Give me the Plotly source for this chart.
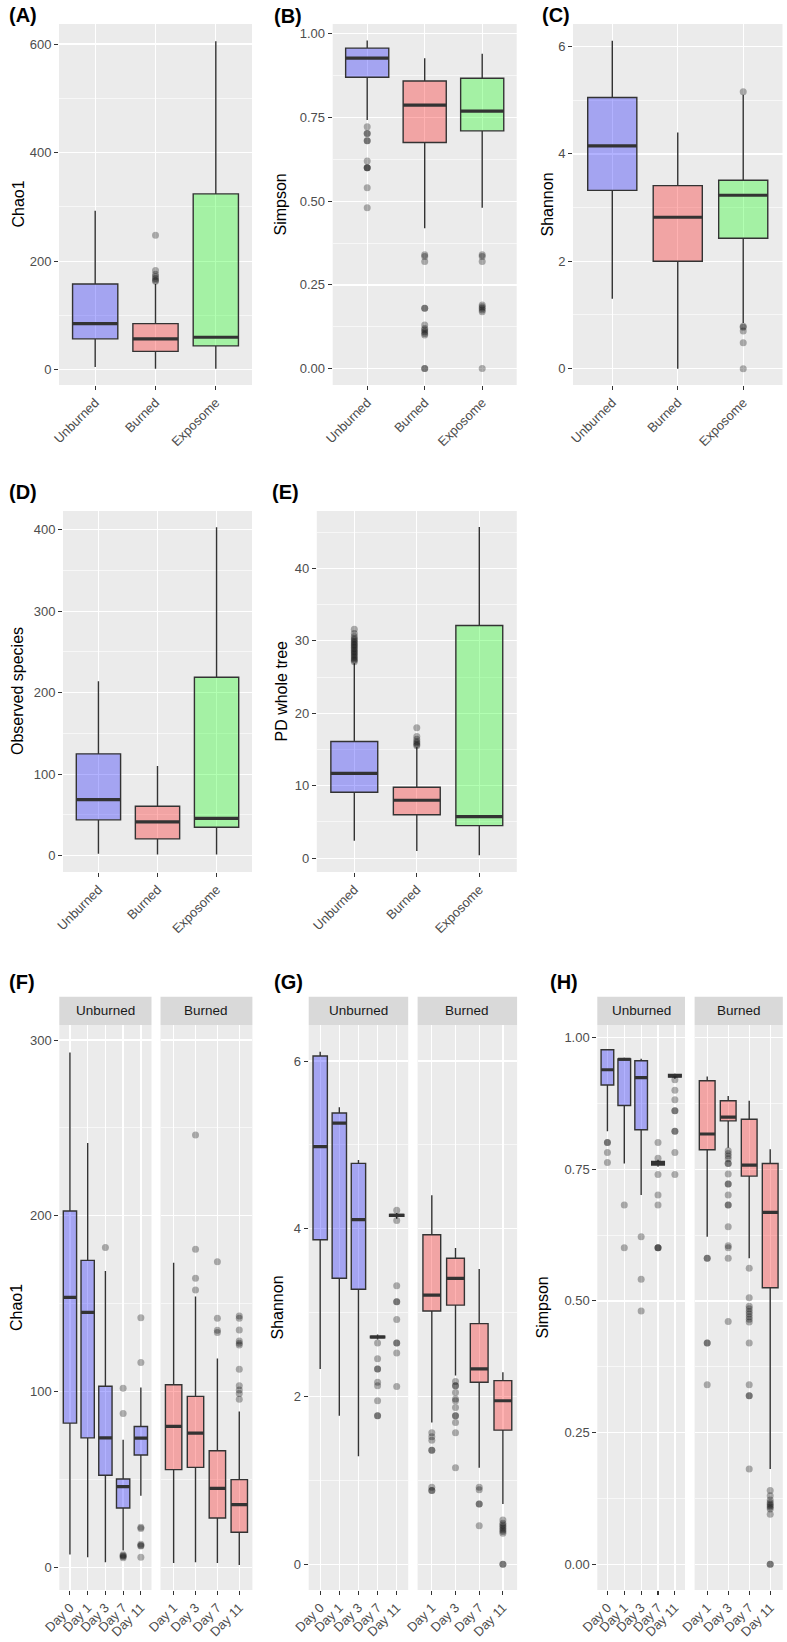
import plotly.graph_objects as go

W, H = 787, 1642
FONT = "Liberation Sans, Arial, sans-serif"
LINE = "#333333"
FILL = {"Unburned": "rgba(0,0,255,0.3)", "Burned": "rgba(255,0,0,0.3)", "Exposome": "rgba(0,255,0,0.3)"}

# ---------------- data ----------------
groups = ["Unburned", "Burned", "Exposome"]
days_unburned = ["Day 0", "Day 1", "Day 3", "Day 7", "Day 11"]
days_burned = ["Day 1", "Day 3", "Day 7", "Day 11"]

# (A) Chao1
A_low = [5, 2, 2]
A_q1 = [57, 34, 44]
A_med = [85, 57, 60]
A_q3 = [158, 85, 324]
A_high = [293, 158, 605]
A_out = [[], [248, 183, 176, 172, 168, 165, 163], []]

# (B) Simpson
B_low = [0.742, 0.419, 0.48]
B_q1 = [0.87, 0.675, 0.71]
B_med = [0.927, 0.787, 0.769]
B_q3 = [0.957, 0.859, 0.867]
B_high = [0.98, 0.927, 0.94]
B_out = [[0.722, 0.702, 0.702, 0.68, 0.68, 0.62, 0.60, 0.60, 0.60, 0.54, 0.48],
         [0.34, 0.335, 0.32, 0.18, 0.18, 0.13, 0.12, 0.115, 0.11, 0.105, 0.10, 0.0, 0.0],
         [0.34, 0.335, 0.32, 0.19, 0.185, 0.18, 0.175, 0.17, 0.0]]

# (C) Shannon
C_low = [1.30, 0.0, 0.85]
C_q1 = [3.32, 2.0, 2.43]
C_med = [4.15, 2.82, 3.23]
C_q3 = [5.05, 3.41, 3.51]
C_high = [6.11, 4.40, 5.10]
C_out = [[], [], [5.16, 0.79, 0.77, 0.70, 0.48, 0.0]]

# (D) Observed species
D_low = [2.5, 1.5, 1.5]
D_q1 = [44, 20.6, 35]
D_med = [68.7, 41.6, 45.7]
D_q3 = [125, 60.7, 219]
D_high = [214, 110, 403]
D_out = [[], [], []]

# (E) PD whole tree
E_low = [2.4, 1.0, 0.4]
E_q1 = [9.1, 6.0, 4.5]
E_med = [11.7, 8.0, 5.75]
E_q3 = [16.1, 9.8, 32.1]
E_high = [26.9, 15.3, 45.7]
E_out = [[27.1, 27.3, 27.5, 27.7, 27.9, 28.1, 28.3, 28.5, 28.7, 28.9, 29.1, 29.3, 29.5,
          29.7, 29.9, 30.1, 30.3, 30.6, 31.0, 31.6],
         [18.0, 16.8, 16.4, 16.1, 15.9, 15.7, 15.5],
         []]

# (F) Chao1 by day
F_U_low = [7.2, 5.7, 2.8, 9.5, 40.7]
F_U_q1 = [82, 73.6, 52.3, 33.7, 63.8]
F_U_med = [153.6, 145, 73.6, 45.8, 73.5]
F_U_q3 = [202.7, 174.6, 103, 50.2, 80.1]
F_U_high = [293, 241.5, 168.6, 72.5, 102.3]
F_U_out = [[], [], [182], [101.9, 87.5, 7, 6.5, 6, 5.3], [142, 116.5, 22.7, 22, 13, 12.3, 12, 5.7]]
F_B_low = [2.3, 2.8, 2.3, 1.3]
F_B_q1 = [55.5, 56.8, 28, 19.9]
F_B_med = [80.1, 76.3, 44.9, 35.6]
F_B_q3 = [103.8, 97.2, 66.3, 49.8]
F_B_high = [173.3, 154, 118.8, 88.6]
F_B_out = [[], [246, 181, 164.4, 157.8],
           [173.9, 141.7, 134.8, 133.5],
           [143, 141.7, 135, 128.8, 127.5, 126.5, 112.7, 103.2, 100.8, 98.9, 95.6]]

# (G) Shannon by day
G_U_low = [2.33, 1.77, 1.29, 2.68, 4.12]
G_U_q1 = [3.87, 3.41, 3.28, 2.70, 4.15]
G_U_med = [4.98, 5.26, 4.11, 2.71, 4.16]
G_U_q3 = [6.06, 5.38, 4.78, 2.72, 4.17]
G_U_high = [6.11, 5.45, 4.82, 2.74, 4.19]
G_U_out = [[], [], [], [2.64, 2.45, 2.33, 2.33, 2.17, 2.13, 1.95, 1.77, 1.77],
           [4.22, 4.10, 3.32, 3.13, 3.13, 2.92, 2.64, 2.64, 2.52, 2.12]]
G_B_low = [1.69, 2.25, 1.15, 0.72]
G_B_q1 = [3.02, 3.09, 2.17, 1.60]
G_B_med = [3.21, 3.41, 2.33, 1.95]
G_B_q3 = [3.93, 3.65, 2.87, 2.19]
G_B_high = [4.40, 3.77, 3.52, 2.29]
G_B_out = [[1.57, 1.52, 1.48, 1.36, 1.36, 0.92, 0.88, 0.88],
           [2.18, 2.13, 2.13, 2.05, 1.97, 1.95, 1.87, 1.77, 1.77, 1.69, 1.57, 1.15],
           [0.92, 0.89, 0.72, 0.72, 0.46],
           [0.53, 0.49, 0.47, 0.45, 0.43, 0.41, 0.39, 0.37, 0.0, 0.0]]

# (H) Simpson by day
H_U_low = [0.822, 0.761, 0.701, 0.755, 0.922]
H_U_q1 = [0.910, 0.871, 0.825, 0.758, 0.925]
H_U_med = [0.939, 0.959, 0.924, 0.761, 0.928]
H_U_q3 = [0.977, 0.9595, 0.956, 0.765, 0.930]
H_U_high = [0.977, 0.962, 0.96, 0.768, 0.932]
H_U_out = [[0.801, 0.801, 0.782, 0.763],
           [0.682, 0.601],
           [0.622, 0.541, 0.481],
           [0.801, 0.771, 0.74, 0.701, 0.682, 0.601, 0.601, 0.601],
           [0.92, 0.90, 0.882, 0.861, 0.861, 0.822, 0.822, 0.782, 0.74]]
H_B_low = [0.622, 0.791, 0.581, 0.181]
H_B_q1 = [0.787, 0.842, 0.737, 0.525]
H_B_med = [0.817, 0.849, 0.758, 0.668]
H_B_q3 = [0.918, 0.880, 0.845, 0.761]
H_B_high = [0.926, 0.889, 0.880, 0.788]
H_B_out = [[0.581, 0.581, 0.42, 0.42, 0.341],
           [0.785, 0.78, 0.775, 0.77, 0.761, 0.761, 0.741, 0.722, 0.722, 0.701, 0.682, 0.682,
            0.641, 0.605, 0.601, 0.581, 0.461],
           [0.562, 0.506, 0.49, 0.485, 0.48, 0.475, 0.47, 0.465, 0.46, 0.42, 0.341, 0.32, 0.32, 0.181],
           [0.14, 0.13, 0.122, 0.117, 0.114, 0.111, 0.108, 0.105, 0.095, 0.0, 0.0]]

# ---------------- helpers ----------------
def dx(a, b):
    return [a / W, b / W]


def dy(top, bot):
    return [1 - bot / H, 1 - top / H]


fig = go.Figure()


def add_boxes(idx, fill, labels, low, q1, med, q3, high, outs):
    xa = "x" if idx == 1 else f"x{idx}"
    ya = "y" if idx == 1 else f"y{idx}"
    for i, lab in enumerate(labels):
        pos = i + 1
        fig.add_trace(go.Box(
            x=[pos], lowerfence=[low[i]], q1=[q1[i]], median=[med[i]], q3=[q3[i]],
            upperfence=[high[i]], width=0.75, fillcolor=fill(lab),
            line=dict(color=LINE, width=1.4), whiskerwidth=0, boxpoints=False,
            xaxis=xa, yaxis=ya, showlegend=False, hoverinfo="skip"))
        fig.add_trace(go.Scatter(
            x=[pos - 0.375, pos + 0.375], y=[med[i], med[i]], mode="lines",
            line=dict(color=LINE, width=3.2), xaxis=xa, yaxis=ya,
            showlegend=False, hoverinfo="skip"))
        if outs[i]:
            fig.add_trace(go.Scatter(
                x=[pos] * len(outs[i]), y=outs[i], mode="markers",
                marker=dict(size=7, color="rgba(0,0,0,0.3)", line=dict(width=0)),
                xaxis=xa, yaxis=ya, showlegend=False, hoverinfo="skip"))


tickfont = dict(family=FONT, size=13, color="#4D4D4D")
layout = dict(
    width=W, height=H, margin=dict(l=0, r=0, t=0, b=0),
    paper_bgcolor="white", plot_bgcolor="#EBEBEB", showlegend=False,
    font=dict(family=FONT),
)


def set_axes(idx, xpx, ypx, labels, yrange, dtick, minor, fmt=None, match=None, showy=True):
    n = len(labels)
    xk = "xaxis" if idx == 1 else f"xaxis{idx}"
    yk = "yaxis" if idx == 1 else f"yaxis{idx}"
    xa = "x" if idx == 1 else f"x{idx}"
    ya = "y" if idx == 1 else f"y{idx}"
    layout[xk] = dict(
        domain=dx(*xpx), anchor=ya, range=[0.4, n + 0.6], type="linear",
        tickmode="array", tickvals=list(range(1, n + 1)), ticktext=labels,
        tickangle=-45, tickfont=tickfont, ticks="outside", ticklen=4, tickwidth=1.1,
        tickcolor=LINE, showgrid=True, gridcolor="white", gridwidth=1.3,
        zeroline=False, showline=False, automargin=False, fixedrange=True)
    yd = dict(
        domain=dy(*ypx), anchor=xa, range=yrange, tick0=0, dtick=dtick,
        tickfont=tickfont, ticks="outside" if showy else "", ticklen=4, tickwidth=1.1,
        tickcolor=LINE, showticklabels=showy, showgrid=True, gridcolor="white",
        gridwidth=1.3, zeroline=False, showline=False, automargin=False,
        minor=dict(tick0=0, dtick=minor, showgrid=True, gridcolor="white", gridwidth=0.6),
        fixedrange=True)
    if fmt:
        yd["tickformat"] = fmt
    if match:
        yd["matches"] = match
    layout[yk] = yd


grp_fill = lambda lab: FILL[lab]
U_fill = lambda lab: FILL["Unburned"]
B_fill = lambda lab: FILL["Burned"]

TOP1, BOT1 = 24, 385
TOP2, BOT2 = 511, 872
STRIP_T, TOP3, BOT3 = 996.7, 1025, 1590

# Row 1
add_boxes(1, grp_fill, groups, A_low, A_q1, A_med, A_q3, A_high, A_out)
set_axes(1, (59, 252), (TOP1, BOT1), groups, [-28, 637], 200, 100)
add_boxes(2, grp_fill, groups, B_low, B_q1, B_med, B_q3, B_high, B_out)
set_axes(2, (332.7, 516.7), (TOP1, BOT1), groups, [-0.049, 1.029], 0.25, 0.125, ".2f")
add_boxes(3, grp_fill, groups, C_low, C_q1, C_med, C_q3, C_high, C_out)
set_axes(3, (573, 782.5), (TOP1, BOT1), groups, [-0.305, 6.42], 2, 1)
# Row 2
add_boxes(4, grp_fill, groups, D_low, D_q1, D_med, D_q3, D_high, D_out)
set_axes(4, (63, 252), (TOP2, BOT2), groups, [-20, 423], 100, 50)
add_boxes(5, grp_fill, groups, E_low, E_q1, E_med, E_q3, E_high, E_out)
set_axes(5, (316.8, 516.8), (TOP2, BOT2), groups, [-1.9, 47.9], 10, 5)
# Row 3
add_boxes(6, U_fill, days_unburned, F_U_low, F_U_q1, F_U_med, F_U_q3, F_U_high, F_U_out)
set_axes(6, (59.3, 151.5), (TOP3, BOT3), days_unburned, [-13, 308.6], 100, 50)
add_boxes(7, B_fill, days_burned, F_B_low, F_B_q1, F_B_med, F_B_q3, F_B_high, F_B_out)
set_axes(7, (160.5, 252.4), (TOP3, BOT3), days_burned, [-13, 308.6], 100, 50, match="y6", showy=False)
add_boxes(8, U_fill, days_unburned, G_U_low, G_U_q1, G_U_med, G_U_q3, G_U_high, G_U_out)
set_axes(8, (308.7, 408.2), (TOP3, BOT3), days_unburned, [-0.306, 6.43], 2, 1)
add_boxes(9, B_fill, days_burned, G_B_low, G_B_q1, G_B_med, G_B_q3, G_B_high, G_B_out)
set_axes(9, (417.6, 517.1), (TOP3, BOT3), days_burned, [-0.306, 6.43], 2, 1, match="y8", showy=False)
add_boxes(10, U_fill, days_unburned, H_U_low, H_U_q1, H_U_med, H_U_q3, H_U_high, H_U_out)
set_axes(10, (597.3, 685), (TOP3, BOT3), days_unburned, [-0.049, 1.024], 0.25, 0.125, ".2f")
add_boxes(11, B_fill, days_burned, H_B_low, H_B_q1, H_B_med, H_B_q3, H_B_high, H_B_out)
set_axes(11, (694.6, 782.8), (TOP3, BOT3), days_burned, [-0.049, 1.024], 0.25, 0.125, ".2f",
         match="y10", showy=False)

fig.update_layout(**layout)

# strips
strips = [((59.3, 151.5), "Unburned"), ((160.5, 252.4), "Burned"),
          ((308.7, 408.2), "Unburned"), ((417.6, 517.1), "Burned"),
          ((597.3, 685), "Unburned"), ((694.6, 782.8), "Burned")]
for (a, b), txt in strips:
    fig.add_shape(type="rect", xref="paper", yref="paper",
                  x0=a / W, x1=b / W, y0=1 - TOP3 / H, y1=1 - STRIP_T / H,
                  fillcolor="#D9D9D9", line=dict(width=0), layer="below")
    fig.add_annotation(x=(a + b) / 2 / W, y=1 - (STRIP_T + TOP3) / 2 / H, xref="paper", yref="paper",
                       text=txt, showarrow=False, xanchor="center", yanchor="middle",
                       font=dict(family=FONT, size=13.5, color="#1A1A1A"))

# panel labels
plabels = [("(A)", 7, 15), ("(B)", 272, 16), ("(C)", 540, 15), ("(D)", 7, 492), ("(E)", 270, 492),
           ("(F)", 7, 982), ("(G)", 272, 982), ("(H)", 548, 982)]
for txt, x, y in plabels:
    fig.add_annotation(x=x / W, y=1 - y / H, xref="paper", yref="paper", text=f"<b>{txt}</b>",
                       showarrow=False, xanchor="left", yanchor="middle",
                       font=dict(family=FONT, size=20, color="black"))

# axis titles
atitles = [("Chao1", 18, (TOP1 + BOT1) / 2), ("Simpson", 280, (TOP1 + BOT1) / 2),
           ("Shannon", 547, (TOP1 + BOT1) / 2), ("Observed species", 17.5, (TOP2 + BOT2) / 2),
           ("PD whole tree", 281, (TOP2 + BOT2) / 2), ("Chao1", 16.5, (TOP3 + BOT3) / 2),
           ("Shannon", 277, (TOP3 + BOT3) / 2), ("Simpson", 542, (TOP3 + BOT3) / 2)]
for txt, x, y in atitles:
    fig.add_annotation(x=x / W, y=1 - y / H, xref="paper", yref="paper", text=txt,
                       showarrow=False, textangle=-90, xanchor="center", yanchor="middle",
                       font=dict(family=FONT, size=16, color="black"))

fig.write_html("out.html", config={"displayModeBar": False, "staticPlot": True},
               post_script="document.body.style.margin='0px';document.body.style.padding='0px';")
